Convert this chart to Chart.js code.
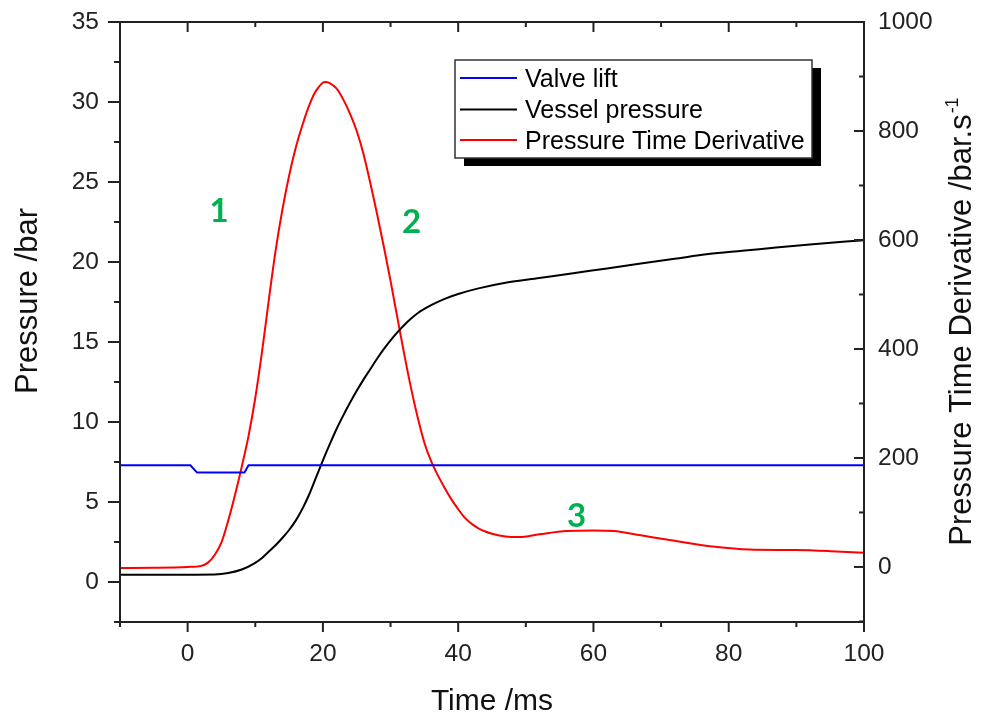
<!DOCTYPE html>
<html>
<head>
<meta charset="utf-8">
<script src="https://cdn.jsdelivr.net/npm/chart.js@4.4.1/dist/chart.umd.min.js"></script>
<style>
  html, body { margin: 0; padding: 0; background: #fff; }
  canvas { display: block; }
</style>
</head>
<body>
<canvas id="chart" width="981" height="717"></canvas>
<script>
// valve lift (left axis)
const liftTime = [-10, 0.4, 1.4, 8.4, 9.0, 100];
const liftValue = [7.3, 7.3, 6.84, 6.84, 7.3, 7.3];

// vessel pressure /bar (left axis)
const pressTime = [-10, -5, 0, 4, 6, 8, 10, 11, 12, 13, 14, 15, 16,
    17, 18, 19, 20, 21, 22, 23, 24, 25, 26, 27, 28, 29, 30, 31, 32, 33, 34,
    36, 38, 40, 43, 47, 52, 57, 62, 67, 72, 77, 82, 87, 92, 100];
const pressValue = [0.46, 0.46, 0.46, 0.47, 0.56, 0.78, 1.2, 1.5, 1.9, 2.3, 2.75, 3.25, 3.85,
    4.6, 5.5, 6.55, 7.6, 8.6, 9.55, 10.4, 11.2, 11.95, 12.65, 13.3, 13.95, 14.55, 15.1, 15.6, 16.05, 16.45, 16.8,
    17.3, 17.7, 18.0, 18.35, 18.7, 19.0, 19.3, 19.6, 19.9, 20.2, 20.5, 20.7, 20.9, 21.1, 21.36];

// pressure time derivative /bar.s-1 (right axis)
const dpdtTime = [-10, -5, 0, 2,
    3, 4, 5, 6, 7, 8, 9, 10, 11, 12, 13, 14, 15, 16, 17, 18, 19,
    20.3,
    21, 22, 23, 24, 25, 26, 27, 28, 29, 30, 31, 32, 33, 34, 35, 36, 37, 38, 39, 40, 41, 42, 43, 44, 45,
    47, 49, 52, 56, 60, 63, 67, 72, 78, 83, 90, 95, 100];
const dpdtValue = [-2, -1.5, 0, 2,
    8, 22, 45, 85, 132, 184, 240, 310, 395, 490, 580, 655, 718, 770, 812, 848, 874,
    890,
    888, 878, 858, 832, 800, 758, 705, 648, 588, 525, 458, 392, 330, 275, 228, 194, 168, 145, 124, 106, 90, 79, 71, 65, 61,
    56, 55, 60, 66, 67, 66, 58, 48, 37, 32, 31, 29, 26];

// axis ticks
const xTicks = [0, 20, 40, 60, 80, 100];
const xMinor = [-10, 10, 30, 50, 70, 90];
const yTicks = [0, 5, 10, 15, 20, 25, 30, 35];
const yMinor = [-2.5, 2.5, 7.5, 12.5, 17.5, 22.5, 27.5, 32.5];
const y2Ticks = [0, 200, 400, 600, 800, 1000];
const y2Minor = [-100, 100, 300, 500, 700, 900];

// numbered phases, placed in time / pressure units
const notes = [
    { text: '1', x: 4.64, y: 22.5 },
    { text: '2', x: 33.1, y: 21.8 },
    { text: '3', x: 57.5, y: 3.45 },
];

const seriesNames = ['Valve lift', 'Vessel pressure', 'Pressure Time Derivative'];
const seriesColors = ['#0000ff', '#000000', '#ff0000'];

const FONT = '"Liberation Sans", Arial, sans-serif';
const AXIS = '#222';

const pts = (xs, ys) => xs.map((x, i) => ({ x, y: ys[i] }));

function axisTicks(list) {
    return s => { s.ticks = list.map(v => ({ value: v })); };
}

// fixed axis sizes so the plot box sits where the original one does
function fixSize(size) {
    return s => {
        if (s.isHorizontal()) s.height = size; else s.width = size;
        s.paddingTop = 0;
        s.paddingBottom = 0;
        s.paddingLeft = 0;
        s.paddingRight = 0;
    };
}

const decor = {
    id: 'decor',
    afterDraw(chart) {
        const { ctx, chartArea: a, scales } = chart;
        ctx.save();

        // frame
        ctx.strokeStyle = AXIS;
        ctx.lineWidth = 2;
        ctx.strokeRect(a.left, a.top, a.width, a.height);

        // tick marks
        const line = (x1, y1, x2, y2) => {
            ctx.beginPath();
            ctx.moveTo(x1, y1);
            ctx.lineTo(x2, y2);
            ctx.stroke();
        };
        for (const v of xTicks) {
            const p = scales.x.getPixelForValue(v);
            line(p, a.bottom, p, a.bottom + 10);
            line(p, a.top, p, a.top + 10);
        }
        for (const v of xMinor) {
            const p = scales.x.getPixelForValue(v);
            line(p, a.bottom, p, a.bottom + 5);
            line(p, a.top, p, a.top + 5);
        }
        for (const v of yTicks) {
            const p = scales.y.getPixelForValue(v);
            line(a.left - 12, p, a.left, p);
        }
        for (const v of yMinor) {
            const p = scales.y.getPixelForValue(v);
            line(a.left - 6, p, a.left, p);
        }
        for (const v of y2Ticks) {
            const p = scales.y2.getPixelForValue(v);
            line(a.right - 10, p, a.right, p);
        }
        for (const v of y2Minor) {
            const p = scales.y2.getPixelForValue(v);
            line(a.right - 5, p, a.right, p);
        }

        // axis titles
        ctx.fillStyle = '#111';
        ctx.textBaseline = 'alphabetic';
        ctx.font = '30px ' + FONT;
        ctx.textAlign = 'center';
        ctx.fillText('Time /ms', (a.left + a.right) / 2, 710);

        ctx.save();
        ctx.font = '31px ' + FONT;
        ctx.translate(37, 301);
        ctx.rotate(-Math.PI / 2);
        ctx.fillText('Pressure /bar', 0, 0);
        ctx.restore();

        ctx.save();
        ctx.translate(971, (a.top + a.bottom) / 2);
        ctx.rotate(-Math.PI / 2);
        ctx.textAlign = 'left';
        ctx.font = '31px ' + FONT;
        const main = 'Pressure Time Derivative /bar.s';
        const w = ctx.measureText(main).width;
        ctx.font = '18px ' + FONT;
        const sw = ctx.measureText('-1').width;
        const x0 = -(w + sw) / 2;
        ctx.font = '31px ' + FONT;
        ctx.fillText(main, x0, 0);
        ctx.font = '18px ' + FONT;
        ctx.fillText('-1', x0 + w + 1, -13);
        ctx.restore();

        // legend with drop shadow
        const L = { x: 455, y: 60, w: 357, h: 98 };
        ctx.fillStyle = '#000';
        ctx.fillRect(L.x + 9, L.y + 8, L.w, L.h);
        ctx.fillStyle = '#fff';
        ctx.fillRect(L.x, L.y, L.w, L.h);
        ctx.lineWidth = 1.5;
        ctx.strokeStyle = '#333';
        ctx.strokeRect(L.x, L.y, L.w, L.h);
        const rows = [78, 109.5, 140];
        ctx.font = '25px ' + FONT;
        ctx.textAlign = 'left';
        seriesNames.forEach((name, i) => {
            ctx.strokeStyle = seriesColors[i];
            ctx.lineWidth = 2;
            line(460, rows[i], 517, rows[i]);
            ctx.fillStyle = '#000';
            ctx.fillText(name, 525, rows[i] + 8.5);
        });

        // phase numbers
        ctx.font = 'bold 33px Lato, "Noto Sans", sans-serif';
        ctx.fillStyle = '#00b050';
        ctx.textAlign = 'center';
        for (const n of notes) {
            ctx.fillText(n.text, scales.x.getPixelForValue(n.x), scales.y.getPixelForValue(n.y));
        }

        ctx.restore();
    }
};

const tickFont = { family: FONT, size: 24.5 };

new Chart(document.getElementById('chart').getContext('2d'), {
    type: 'line',
    data: {
        datasets: [
            {
                label: seriesNames[0],
                data: pts(liftTime, liftValue),
                yAxisID: 'y',
                borderColor: seriesColors[0],
                borderWidth: 2,
                tension: 0,
            },
            {
                label: seriesNames[1],
                data: pts(pressTime, pressValue),
                yAxisID: 'y',
                borderColor: seriesColors[1],
                borderWidth: 2,
                cubicInterpolationMode: 'monotone',
            },
            {
                label: seriesNames[2],
                data: pts(dpdtTime, dpdtValue),
                yAxisID: 'y2',
                borderColor: seriesColors[2],
                borderWidth: 2,
                cubicInterpolationMode: 'monotone',
            },
        ]
    },
    options: {
        responsive: false,
        animation: false,
        layout: { padding: { top: 22, left: 0, right: 0, bottom: 0 } },
        elements: { point: { radius: 0 } },
        plugins: {
            legend: { display: false },
            tooltip: { enabled: false },
        },
        scales: {
            x: {
                type: 'linear', min: -10, max: 100,
                grid: { display: false, drawTicks: false },
                border: { display: false },
                afterBuildTicks: axisTicks(xTicks),
                afterFit: fixSize(95),
                ticks: { font: tickFont, color: AXIS, padding: 18, maxRotation: 0, autoSkip: false, callback: v => String(v) },
            },
            y: {
                type: 'linear', position: 'left', min: -2.5, max: 35,
                grid: { display: false, drawTicks: false },
                border: { display: false },
                afterBuildTicks: axisTicks(yTicks),
                afterFit: fixSize(120),
                ticks: { font: tickFont, color: AXIS, padding: 21, autoSkip: false, callback: v => String(v) },
            },
            y2: {
                type: 'linear', position: 'right', min: -101, max: 1000,
                grid: { display: false, drawTicks: false },
                border: { display: false },
                afterBuildTicks: axisTicks(y2Ticks),
                afterFit: fixSize(117),
                ticks: { font: tickFont, color: AXIS, padding: 14, autoSkip: false, callback: v => String(v) },
            },
        },
    },
    plugins: [decor],
});
</script>
</body>
</html>
